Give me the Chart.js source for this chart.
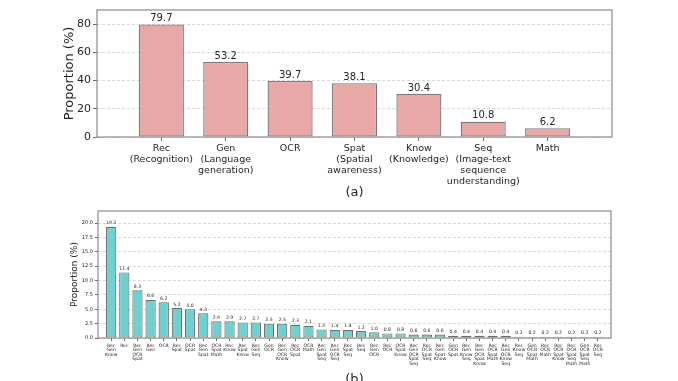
<!DOCTYPE html>
<html><head><meta charset="utf-8">
<script src="https://cdn.jsdelivr.net/npm/chart.js@4.4.1/dist/chart.umd.min.js"></script>
<style>
html,body{margin:0;padding:0;background:#fff;overflow:hidden;width:678px;height:381px;}
canvas{position:absolute;left:0;display:block;}
#ca{top:0;}
#cb{top:200px;}
</style></head><body>
<canvas id="ca" width="678" height="200" style="width:678px;height:200px"></canvas>
<canvas id="cb" width="678" height="200" style="width:678px;height:200px"></canvas>
<script>
// ---- Data (a) ----
const categoriesA = [["Rec","(Recognition)"],["Gen","(Language","generation)"],["OCR"],["Spat","(Spatial","awareness)"],["Know","(Knowledge)"],["Seq","(Image-text","sequence","understanding)"],["Math"]];
const valuesA = [79.7, 53.2, 39.7, 38.1, 30.4, 10.8, 6.2];
const yTicksA = [0, 20, 40, 60, 80];

// ---- Data (b) ----
const categoriesB = [
  ["Rec","Gen","Know"],["Rec"],["Rec","Gen","OCR","Spat"],["Rec","Gen"],["OCR"],["Rec","Spat"],["OCR","Spat"],["Rec","Gen","Spat"],
  ["OCR","Spat","Math"],["Rec","Know"],["Rec","Spat","Know"],["Rec","Gen","Seq"],["Gen","OCR"],["Rec","Gen","OCR","Know"],["Rec","OCR","Spat"],["OCR","Math"],
  ["Rec","Gen","Spat","Seq"],["Rec","Gen","OCR","Seq"],["Rec","Spat","Seq"],["Rec","Seq"],["Rec","Gen","OCR"],["Rec","OCR"],["OCR","Spat","Know"],
  ["Rec","Gen","OCR","Spat","Seq"],["Rec","OCR","Spat","Seq"],["Rec","Gen","Spat","Know"],["Gen","OCR","Spat"],["Rec","Gen","Know","Seq"],
  ["Rec","Gen","OCR","Spat","Know"],["Rec","OCR","Spat","Math"],["Rec","Gen","OCR","Know","Seq"],["Rec","Know","Seq"],["Gen","OCR","Spat","Math"],
  ["Rec","OCR","Math"],["Rec","OCR","Spat","Know"],["Rec","OCR","Spat","Seq","Math"],["Gen","OCR","Spat","Seq","Math"],["Rec","OCR","Seq"]
];
const valuesB = [19.3, 11.4, 8.3, 6.6, 6.2, 5.2, 5.0, 4.3, 2.9, 2.9, 2.7, 2.7, 2.5, 2.5, 2.3, 2.1, 1.5, 1.4, 1.4, 1.2, 1.0, 0.8, 0.8, 0.6, 0.6, 0.6, 0.4, 0.4, 0.4, 0.4, 0.4, 0.2, 0.2, 0.2, 0.2, 0.2, 0.2, 0.2];
const yTicksB = [0, 2.5, 5, 7.5, 10, 12.5, 15, 17.5, 20];

const FONT = "'DejaVu Sans', sans-serif";
const TXT = '#262626';

const framePlugin = {
  id: 'frameAndLabels',
  afterDatasetsDraw(chart, args, o) {
    const ctx = chart.ctx, a = chart.chartArea;
    ctx.save();
    ctx.strokeStyle = o.frameColor; ctx.lineWidth = o.frameWidth;
    ctx.strokeRect(a.left, a.top, a.right - a.left, a.bottom - a.top);
    const meta = chart.getDatasetMeta(0);
    const data = chart.data.datasets[0].data;
    ctx.font = o.labelSize + 'px ' + FONT;
    ctx.fillStyle = TXT; ctx.textAlign = 'center'; ctx.textBaseline = 'bottom';
    meta.data.forEach((bar, i) => {
      ctx.fillText(data[i].y.toFixed(1), bar.x, bar.y - o.gap);
    });
    ctx.restore();
  }
};

function makeChart(id, cats, vals, yTicks, cfg) {
  return new Chart(document.getElementById(id), {
    type: 'bar',
    data: {
      datasets: [{
        data: vals.map((v, i) => ({x: i, y: v})),
        backgroundColor: cfg.fill,
        borderColor: cfg.edge,
        borderWidth: cfg.edgeWidth,
        borderSkipped: false,
        barPercentage: cfg.barPct,
        categoryPercentage: 1.0
      }]
    },
    options: {
      responsive: false,
      animation: false,
      devicePixelRatio: 1,
      layout: {padding: {top: cfg.padTop, right: cfg.padRight, left: 0, bottom: 0}},
      plugins: {
        legend: {display: false}, tooltip: {enabled: false},
        frameAndLabels: {frameColor: '#8c8c8c', frameWidth: 1.2, labelSize: cfg.valueSize, gap: cfg.gap}
      },
      scales: {
        x: {
          type: 'linear', min: -1, max: cats.length, offset: false,
          afterBuildTicks: s => { s.ticks = cats.map((_, i) => ({value: i})); },
          afterFit: s => { s.height = cfg.xHeight; },
          ticks: {
            callback: (v, i) => cats[i], autoSkip: false, maxRotation: 0, minRotation: 0,
            color: TXT, padding: cfg.xPad, font: {family: FONT, size: cfg.xSize, lineHeight: cfg.xLH}
          },
          grid: {offset: false, drawOnChartArea: false, drawTicks: true, tickLength: cfg.tickLen, tickColor: '#444', tickWidth: 0.8},
          border: {display: false},
          title: {display: true, text: cfg.sub, color: TXT, font: {family: FONT, size: 13, lineHeight: 1.2}, padding: {top: 0, bottom: cfg.subPad}}
        },
        y: {
          min: 0, max: cfg.yMax,
          afterBuildTicks: s => { s.ticks = yTicks.map(v => ({value: v})); },
          afterFit: s => { s.width = cfg.yWidth; },
          ticks: {
            callback: v => cfg.yFmt(v), color: TXT, padding: 2,
            font: {family: FONT, size: cfg.ySize}
          },
          grid: {color: '#cfcfcf', lineWidth: 0.8, tickLength: cfg.tickLen, tickColor: '#444', tickWidth: 0.8, tickBorderDash: []},
          border: {display: false, dash: [3, 2]},
          title: {display: true, text: 'Proportion (%)', color: TXT, font: {family: FONT, size: cfg.yTitleSize, lineHeight: 1.2}, padding: {top: cfg.yTitlePad, bottom: 0}}
        }
      }
    },
    plugins: [framePlugin]
  });
}

makeChart('ca', categoriesA, valuesA, yTicksA, {
  fill: '#e8a8a8', edge: '#7a7a7a', edgeWidth: 1.3, barPct: 0.7,
  padTop: 10, padRight: 66, xHeight: 63, yWidth: 97, yMax: 90,
  xSize: 9.5, xLH: 1.15, xPad: 2, tickLen: 4, ySize: 11, yTitleSize: 13, yTitlePad: 62,
  valueSize: 10, gap: 1, sub: '(a)', subPad: 0, yFmt: v => String(v)
});

makeChart('cb', categoriesB, valuesB, yTicksB, {
  fill: '#70cfcf', edge: '#6e6e6e', edgeWidth: 1.1, barPct: 0.78,
  padTop: 11, padRight: 67, xHeight: 62, yWidth: 98, yMax: 22.1,
  xSize: 4.6, xLH: 1.0, xPad: 2, tickLen: 3, ySize: 5, yTitleSize: 9, yTitlePad: 69,
  valueSize: 4.6, gap: 1.5, sub: '(b)', subPad: 13, yFmt: v => v.toFixed(1)
});
</script>
</body></html>
